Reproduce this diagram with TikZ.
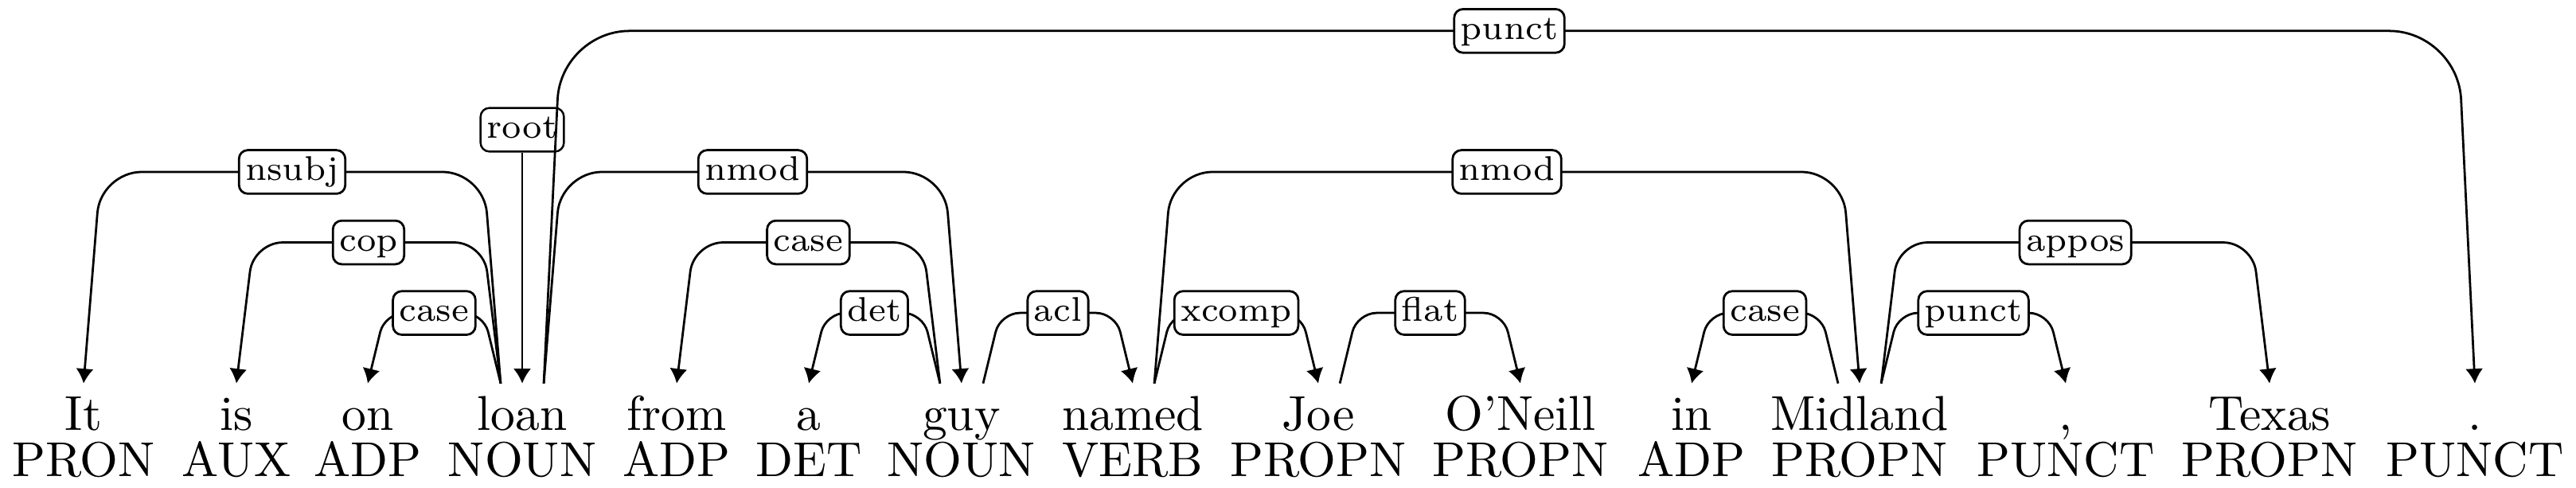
\documentclass[tikz,border=0pt]{standalone}
\usepackage{tikz}
\usetikzlibrary{arrows.meta, calc, positioning}

\begin{document}
\begin{tikzpicture}[
    word/.style={anchor=base, inner sep=2pt, text height=7.3pt, text depth=2pt},
    tag/.style={anchor=base, inner sep=2pt},
    dep/.style={-{Latex[length=3pt, width=3.6pt]}, line width=0.45pt},
    lab/.style={draw, fill=white, rounded corners=1.8pt, font=\scriptsize, inner xsep=1.3pt, inner ysep=1.2pt, text height=5pt, text depth=1.5pt}]
    \useasboundingbox (0,0) rectangle (18.493,3.4975);
    \def\dslant{3.5pt}
    \def\dlevel{14.4pt}
    \def\doff{4.4pt}

    % words and their tags
    \foreach \n/\x/\w/\t in {it/0.600/It/PRON, is/1.697/is/AUX, on/2.640/on/ADP, loan/3.749/loan/NOUN,
        from/4.858/from/ADP, a/5.806/a/DET, guy/6.903/guy/NOUN, named/8.132/named/VERB,
        joe/9.464/Joe/PROPN, oneill/10.915/O'Neill/PROPN, in/12.144/in/ADP, midland/13.350/Midland/PROPN,
        comma/14.830/{,}/PUNCT, texas/16.293/Texas/PROPN, stop/17.767/./PUNCT} {
        \node[word] (\n) at (\x,0.411) {\w};
        \node[tag] (t\n) at (\x,0.080) {\t};
    }

    % arcs
    \draw[dep, rounded corners=8.4pt] ([xshift=-\doff]loan.north) -- ++(-\dslant,3*\dlevel) -- ($(it.north)+(\dslant,3*\dlevel)$) node[lab,midway]{nsubj} -- (it.north);
    \draw[dep, rounded corners=6pt] ([xshift=-\doff]loan.north) -- ++(-\dslant,2*\dlevel) -- ($(is.north)+(\dslant,2*\dlevel)$) node[lab,midway]{cop} -- (is.north);
    \draw[dep, rounded corners=4pt] ([xshift=-\doff]loan.north) -- ++(-\dslant,\dlevel) -- ($(on.north)+(\dslant,\dlevel)$) node[lab,midway]{case} -- (on.north);
    \node[lab] (rootlab) at (3.749,2.566) {root};
    \draw[dep] (rootlab) -- (loan.north);
    \draw[dep, rounded corners=8.4pt] ([xshift=\doff]loan.north) -- ++(\dslant,3*\dlevel) -- ($(guy.north)+(-\dslant,3*\dlevel)$) node[lab,midway]{nmod} -- (guy.north);
    \draw[dep, rounded corners=6pt] ([xshift=-\doff]guy.north) -- ++(-\dslant,2*\dlevel) -- ($(from.north)+(\dslant,2*\dlevel)$) node[lab,midway]{case} -- (from.north);
    \draw[dep, rounded corners=4pt] ([xshift=-\doff]guy.north) -- ++(-\dslant,\dlevel) -- ($(a.north)+(\dslant,\dlevel)$) node[lab,midway]{det} -- (a.north);
    \draw[dep, rounded corners=4pt] ([xshift=\doff]guy.north) -- ++(\dslant,\dlevel) -- ($(named.north)+(-\dslant,\dlevel)$) node[lab,midway]{acl} -- (named.north);
    \draw[dep, rounded corners=4pt] ([xshift=\doff]named.north) -- ++(\dslant,\dlevel) -- ($(joe.north)+(-\dslant,\dlevel)$) node[lab,midway]{xcomp} -- (joe.north);
    \draw[dep, rounded corners=8.4pt] ([xshift=\doff]named.north) -- ++(\dslant,3*\dlevel) -- ($(midland.north)+(-\dslant,3*\dlevel)$) node[lab,midway]{nmod} -- (midland.north);
    \draw[dep, rounded corners=4pt] ([xshift=\doff]joe.north) -- ++(\dslant,\dlevel) -- ($(oneill.north)+(-\dslant,\dlevel)$) node[lab,midway]{flat} -- (oneill.north);
    \draw[dep, rounded corners=4pt] ([xshift=-\doff]midland.north) -- ++(-\dslant,\dlevel) -- ($(in.north)+(\dslant,\dlevel)$) node[lab,midway]{case} -- (in.north);
    \draw[dep, rounded corners=6pt] ([xshift=\doff]midland.north) -- ++(\dslant,2*\dlevel) -- ($(texas.north)+(-\dslant,2*\dlevel)$) node[lab,midway]{appos} -- (texas.north);
    \draw[dep, rounded corners=4pt] ([xshift=\doff]midland.north) -- ++(\dslant,\dlevel) -- ($(comma.north)+(-\dslant,\dlevel)$) node[lab,midway]{punct} -- (comma.north);
    \draw[dep, rounded corners=14pt] ([xshift=\doff]loan.north) -- ++(\dslant,5*\dlevel) -- ($(stop.north)+(-\dslant,5*\dlevel)$) node[lab,midway]{punct} -- (stop.north);
\end{tikzpicture}
\end{document}
